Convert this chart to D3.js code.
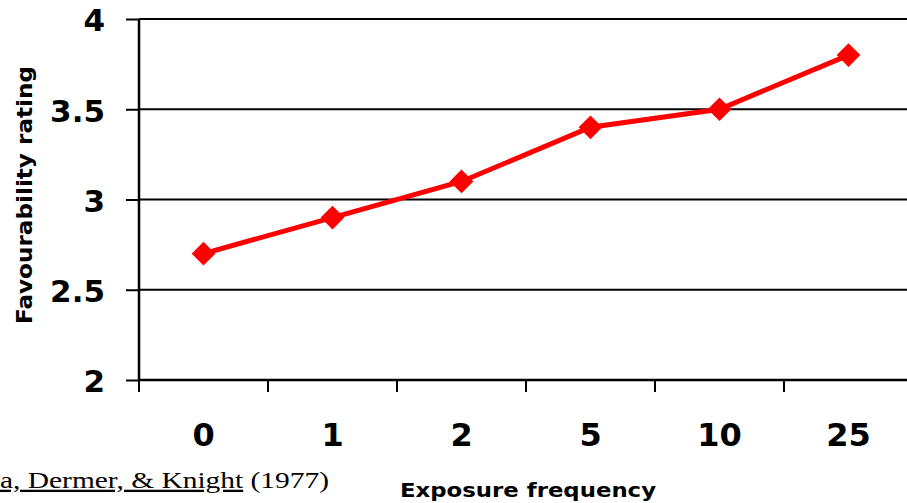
<!DOCTYPE html>
<html>
<head>
<meta charset="utf-8">
<script src="https://cdn.jsdelivr.net/npm/d3@7"></script>
<style>
  body { margin: 0; background: #fff; overflow: hidden; }
  svg { display: block; }
  .tick text { font-family: "DejaVu Sans", Verdana, sans-serif; font-weight: bold; fill: #000; }
</style>
</head>
<body>
<svg width="907" height="503"></svg>
<script>
// data
var categories = ["0", "1", "2", "5", "10", "25"];
var ratings = [2.7, 2.9, 3.1, 3.4, 3.5, 3.8];
var yTicks = [2, 2.5, 3, 3.5, 4];

var svg = d3.select("svg");

var margin = {top: 19, left: 139},
    width = 774,
    height = 361;

var g = svg.append("g")
    .attr("transform", "translate(" + margin.left + "," + margin.top + ")");

var x = d3.scaleBand()
    .domain(categories)
    .range([0, width]);

var y = d3.scaleLinear()
    .domain([2, 4])
    .range([height, 0]);

// gridlines
g.selectAll(".grid")
    .data(yTicks.slice(1))
    .enter().append("line")
    .attr("class", "grid")
    .attr("x1", 0)
    .attr("x2", width)
    .attr("y1", function(d) { return y(d); })
    .attr("y2", function(d) { return y(d); })
    .attr("stroke", "#000")
    .attr("stroke-width", 2);

// y axis
var yAxis = g.append("g")
    .call(d3.axisLeft(y).tickValues(yTicks).tickSize(13).tickPadding(21)
        .tickFormat(function(d) { return d; }));
yAxis.select(".domain").attr("stroke-width", 2.5).attr("d", "M0," + height + "V0");
yAxis.selectAll(".tick line").attr("stroke-width", 2);
yAxis.selectAll(".tick text").style("font-size", "31px").attr("dy", "0.38em");

// x axis
var xAxis = g.append("g")
    .attr("transform", "translate(0," + height + ")")
    .call(d3.axisBottom(x).tickSize(0).tickPadding(43));
xAxis.select(".domain").attr("stroke-width", 2.5).attr("d", "M0,0H" + width);
xAxis.selectAll(".tick text").style("font-size", "32px");
// tick marks between categories
xAxis.selectAll(".sep")
    .data(categories)
    .enter().append("line")
    .attr("class", "sep")
    .attr("x1", function(d) { return x(d); })
    .attr("x2", function(d) { return x(d); })
    .attr("y1", 0)
    .attr("y2", 12)
    .attr("stroke", "#000")
    .attr("stroke-width", 2);

// line
var line = d3.line()
    .x(function(d, i) { return x(categories[i]) + x.bandwidth() / 2; })
    .y(function(d) { return y(d); });

g.append("path")
    .datum(ratings)
    .attr("d", line)
    .attr("fill", "none")
    .attr("stroke", "#ff0000")
    .attr("stroke-width", 5);

g.selectAll(".pt")
    .data(ratings)
    .enter().append("path")
    .attr("class", "pt")
    .attr("d", d3.symbol().type(d3.symbolSquare).size(280))
    .attr("transform", function(d, i) {
        return "translate(" + (x(categories[i]) + x.bandwidth() / 2) + "," + y(d) + ") rotate(45)";
    })
    .attr("fill", "#ff0000");

// axis titles
svg.append("text")
    .attr("transform", "translate(32,195) rotate(-90)")
    .attr("text-anchor", "middle")
    .attr("textLength", 258)
    .attr("lengthAdjust", "spacingAndGlyphs")
    .style("font-family", "DejaVu Sans, Verdana, sans-serif")
    .style("font-weight", "bold")
    .style("font-size", "21px")
    .text("Favourability rating");

svg.append("text")
    .attr("x", 528)
    .attr("y", 497)
    .attr("text-anchor", "middle")
    .attr("textLength", 256)
    .attr("lengthAdjust", "spacingAndGlyphs")
    .style("font-family", "DejaVu Sans, Verdana, sans-serif")
    .style("font-weight", "bold")
    .style("font-size", "20px")
    .text("Exposure frequency");

// citation (cut off at the left edge in the original)
var cite = svg.append("text")
    .attr("transform", "translate(0,488) scale(1.28,1)")
    .style("font-family", "Liberation Serif, Times New Roman, serif")
    .style("font-size", "23px");
cite.append("tspan").style("text-decoration", "underline").text("a, Dermer, & Knight");
cite.append("tspan").text(" (1977)");
</script>
</body>
</html>
